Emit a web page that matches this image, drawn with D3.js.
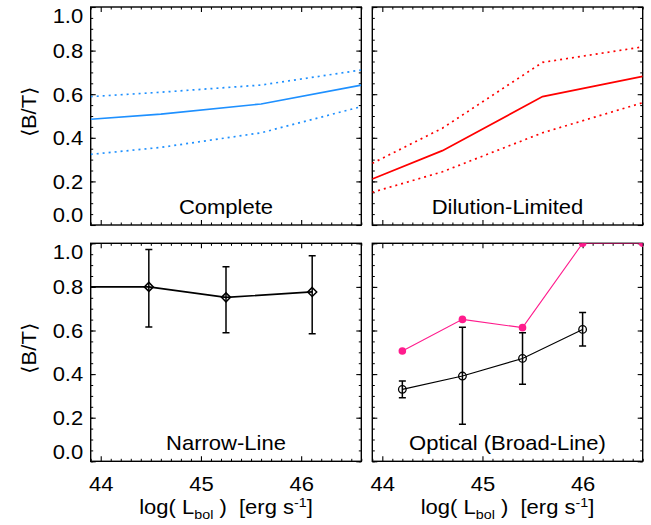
<!DOCTYPE html>
<html>
<head>
<meta charset="utf-8">
<script src="https://cdn.jsdelivr.net/npm/d3@7"></script>
<style>
  body { margin: 0; background: #fff; }
  svg { display: block; }
  text { font-family: "Liberation Sans", Arial, Helvetica, sans-serif; fill: #000; }
</style>
</head>
<body>
<svg></svg>
<script>
// chart data
let xTicks = [44, 45, 46];
let yTicks = [0, 0.2, 0.4, 0.6, 0.8, 1.0];

// Complete (blue)
let completeX = [43.9, 44.6, 45.6, 46.6];
let completeMid = [0.485, 0.509, 0.555, 0.642];
let completeHi = [0.589, 0.609, 0.642, 0.711];
let completeLo = [0.324, 0.356, 0.423, 0.543];

// Dilution-Limited (red)
let dilutionX = [43.9, 44.6, 45.6, 46.6];
let dilutionMid = [0.211, 0.341, 0.589, 0.682];
let dilutionHi = [0.283, 0.444, 0.746, 0.817];
let dilutionLo = [0.150, 0.244, 0.423, 0.561];

// Narrow-Line (black diamonds); first point lies left of the axis
let narrowX = [43.6, 44.48, 45.25, 46.11];
let narrowY = [0.80, 0.80, 0.752, 0.777];
let narrowErrLo = [null, 0.616, 0.590, 0.585];
let narrowErrHi = [null, 0.972, 0.893, 0.943];

// Optical (Broad-Line): black open circles + pink filled
let opticalX = [44.2, 44.8, 45.4, 46.0];
let opticalY = [0.330, 0.391, 0.472, 0.605];
let opticalErrLo = [0.292, 0.170, 0.353, 0.529];
let opticalErrHi = [0.368, 0.615, 0.590, 0.682];
let pinkX = [44.2, 44.8, 45.4, 46.0, 46.6];
let pinkY = [0.506, 0.651, 0.613, 1.0, 1.0];

let panelTitles = ['Complete', 'Dilution-Limited', 'Narrow-Line', 'Optical (Broad-Line)'];

// layout
let width = 651;
let height = 525;
let cols = [[90.7, 361.3], [372.3, 642.7]];
let rows = [[7, 225], [243.3, 461.3]];
let xDomain = [43.9, 46.6];
let blue = '#1E90FF';
let red = '#FF0000';
let pink = '#FF1C8D';
let stretch = 1.1; // the original font is a bit wider than Liberation Sans

let svg = d3.select('svg')
    .attr('width', width)
    .attr('height', height);

let defs = svg.append('defs');

function wideText(g, x, y, str, anchor, size) {
    return g.append('text')
        .attr('transform', `translate(${x},${y}) scale(${stretch},1)`)
        .attr('text-anchor', anchor)
        .style('font-size', size + 'px')
        .text(str);
}

function makePanel(i, col, row) {
    let xr = cols[col], yr = rows[row];
    let xScale = d3.scaleLinear().domain(xDomain).range(xr);
    let yScale = d3.scaleLinear().domain([0, 1]).range([yr[1], yr[0]]);
    let g = svg.append('g');

    defs.append('clipPath').attr('id', 'clip' + i)
        .append('rect')
        .attr('x', xr[0]).attr('y', yr[0])
        .attr('width', xr[1] - xr[0]).attr('height', yr[1] - yr[0]);

    let minorX = d3.range(439, 467).map(d => d / 10).filter(d => !xTicks.includes(d));
    let minorY = d3.range(0, 21).map(d => d / 20);

    let showX = row === 1, showY = col === 0;

    // major + minor ticks on all four sides, pointing inward
    let sides = [
        { axis: d3.axisBottom(xScale), t: `translate(0,${yr[1]})`, major: xTicks, minor: minorX, label: showX },
        { axis: d3.axisTop(xScale), t: `translate(0,${yr[0]})`, major: xTicks, minor: minorX, label: false },
        { axis: d3.axisLeft(yScale), t: `translate(${xr[0]},0)`, major: yTicks, minor: minorY, label: showY },
        { axis: d3.axisRight(yScale), t: `translate(${xr[1]},0)`, major: yTicks, minor: minorY, label: false }
    ];
    sides.forEach(function(s, k) {
        g.append('g').attr('transform', s.t)
            .call(s.axis.tickValues(s.minor).tickSizeInner(-2.5).tickSizeOuter(0).tickFormat(''))
            .call(a => a.select('.domain').remove());
        let isY = k >= 2;
        let ax = g.append('g').attr('transform', s.t)
            .call(s.axis.tickValues(s.major).tickSizeInner(-5).tickSizeOuter(0)
                .tickPadding(isY ? 7.5 : 16.5)
                .tickFormat(s.label ? d3.format('.1f') : ''))
            .call(a => a.select('.domain').remove());
        ax.selectAll('line').attr('stroke', '#000').attr('stroke-width', 1.1);
        if (s.label) {
            ax.selectAll('text')
                .attr('font-family', null)
                .style('font-size', '20px')
                .each(function(d) {
                    let t = d3.select(this);
                    if (isY) {
                        let shift = d === 1 ? 8.5 : (d === 0 ? -10 : 0);
                        t.attr('x', -7.5 / stretch).attr('dy', null)
                            .attr('transform', `translate(0,${6.8 + shift}) scale(${stretch},1)`);
                    } else {
                        t.text(d3.format('d')(d)).attr('y', null).attr('dy', null)
                            .attr('transform', `translate(0,29.5) scale(${stretch},1)`);
                    }
                });
        }
    });

    g.append('rect')
        .attr('x', xr[0]).attr('y', yr[0])
        .attr('width', xr[1] - xr[0]).attr('height', yr[1] - yr[0])
        .attr('fill', 'none').attr('stroke', '#000').attr('stroke-width', 1.4);

    wideText(g, (xr[0] + xr[1]) / 2, yr[1] - 11, panelTitles[i], 'middle', 20);

    if (showY) {
        g.append('text')
            .attr('transform', `translate(36,${(yr[0] + yr[1]) / 2 - 4}) rotate(-90) scale(${stretch},1)`)
            .attr('text-anchor', 'middle')
            .style('font-size', '20px')
            .text('\u27E8B/T\u27E9');
    }
    if (showX) {
        let tt = g.append('text')
            .attr('transform', `translate(${(xr[0] + xr[1]) / 2},514) scale(${stretch},1)`)
            .attr('text-anchor', 'middle')
            .style('font-size', '20px')
            .style('white-space', 'pre');
        tt.append('tspan').text('log( L');
        tt.append('tspan').attr('dy', 5).style('font-size', '13px').text('bol');
        tt.append('tspan').attr('dy', -5).text(' )  [erg s');
        tt.append('tspan').attr('dy', -7).style('font-size', '13px').text('-1');
        tt.append('tspan').attr('dy', 7).text(']');
    }

    let plot = g.append('g').attr('clip-path', `url(#clip${i})`);
    return { xScale, yScale, plot };
}

function band(p, xs, mid, hi, lo, color) {
    let line = d3.line().x(d => p.xScale(d[0])).y(d => p.yScale(d[1]));
    p.plot.append('path').datum(d3.zip(xs, mid)).attr('d', line)
        .attr('fill', 'none').attr('stroke', color).attr('stroke-width', 1.7);
    [hi, lo].forEach(function(arr) {
        p.plot.append('path').datum(d3.zip(xs, arr)).attr('d', line)
            .attr('fill', 'none').attr('stroke', color).attr('stroke-width', 1.7)
            .attr('stroke-dasharray', '2,4');
    });
}

function errorBars(p, xs, lo, hi) {
    xs.forEach(function(x, k) {
        if (lo[k] === null) return;
        let cx = p.xScale(x);
        p.plot.append('line')
            .attr('x1', cx).attr('x2', cx)
            .attr('y1', p.yScale(lo[k])).attr('y2', p.yScale(hi[k]))
            .attr('stroke', '#000').attr('stroke-width', 1.5);
        [lo[k], hi[k]].forEach(function(v) {
            p.plot.append('line')
                .attr('x1', cx - 3.5).attr('x2', cx + 3.5)
                .attr('y1', p.yScale(v)).attr('y2', p.yScale(v))
                .attr('stroke', '#000').attr('stroke-width', 1.5);
        });
    });
}

// Complete
let p0 = makePanel(0, 0, 0);
band(p0, completeX, completeMid, completeHi, completeLo, blue);

// Dilution-Limited
let p1 = makePanel(1, 1, 0);
band(p1, dilutionX, dilutionMid, dilutionHi, dilutionLo, red);

// Narrow-Line
let p2 = makePanel(2, 0, 1);
let line2 = d3.line().x(d => p2.xScale(d[0])).y(d => p2.yScale(d[1]));
p2.plot.append('path').datum(d3.zip(narrowX, narrowY)).attr('d', line2)
    .attr('fill', 'none').attr('stroke', '#000').attr('stroke-width', 1.6);
errorBars(p2, narrowX, narrowErrLo, narrowErrHi);
p2.plot.selectAll('.diamond')
    .data(d3.zip(narrowX, narrowY))
    .enter()
    .append('path')
    .attr('class', 'diamond')
    .attr('d', 'M0,-4.5L4.5,0L0,4.5L-4.5,0Z')
    .attr('transform', d => `translate(${p2.xScale(d[0])},${p2.yScale(d[1])})`)
    .attr('fill', 'none').attr('stroke', '#000').attr('stroke-width', 1.5);

// Optical (Broad-Line)
let p3 = makePanel(3, 1, 1);
let line3 = d3.line().x(d => p3.xScale(d[0])).y(d => p3.yScale(d[1]));
p3.plot.append('path').datum(d3.zip(pinkX, pinkY)).attr('d', line3)
    .attr('fill', 'none').attr('stroke', pink).attr('stroke-width', 1.1);
p3.plot.selectAll('.pink')
    .data(d3.zip(pinkX, pinkY))
    .enter()
    .append('circle')
    .attr('class', 'pink')
    .attr('cx', d => p3.xScale(d[0]))
    .attr('cy', d => p3.yScale(d[1]))
    .attr('r', 3.8)
    .attr('fill', pink);
p3.plot.append('path').datum(d3.zip(opticalX, opticalY)).attr('d', line3)
    .attr('fill', 'none').attr('stroke', '#000').attr('stroke-width', 1.1);
errorBars(p3, opticalX, opticalErrLo, opticalErrHi);
p3.plot.selectAll('.open')
    .data(d3.zip(opticalX, opticalY))
    .enter()
    .append('circle')
    .attr('class', 'open')
    .attr('cx', d => p3.xScale(d[0]))
    .attr('cy', d => p3.yScale(d[1]))
    .attr('r', 3.8)
    .attr('fill', 'none')
    .attr('stroke', '#000').attr('stroke-width', 1.3);
</script>
</body>
</html>
